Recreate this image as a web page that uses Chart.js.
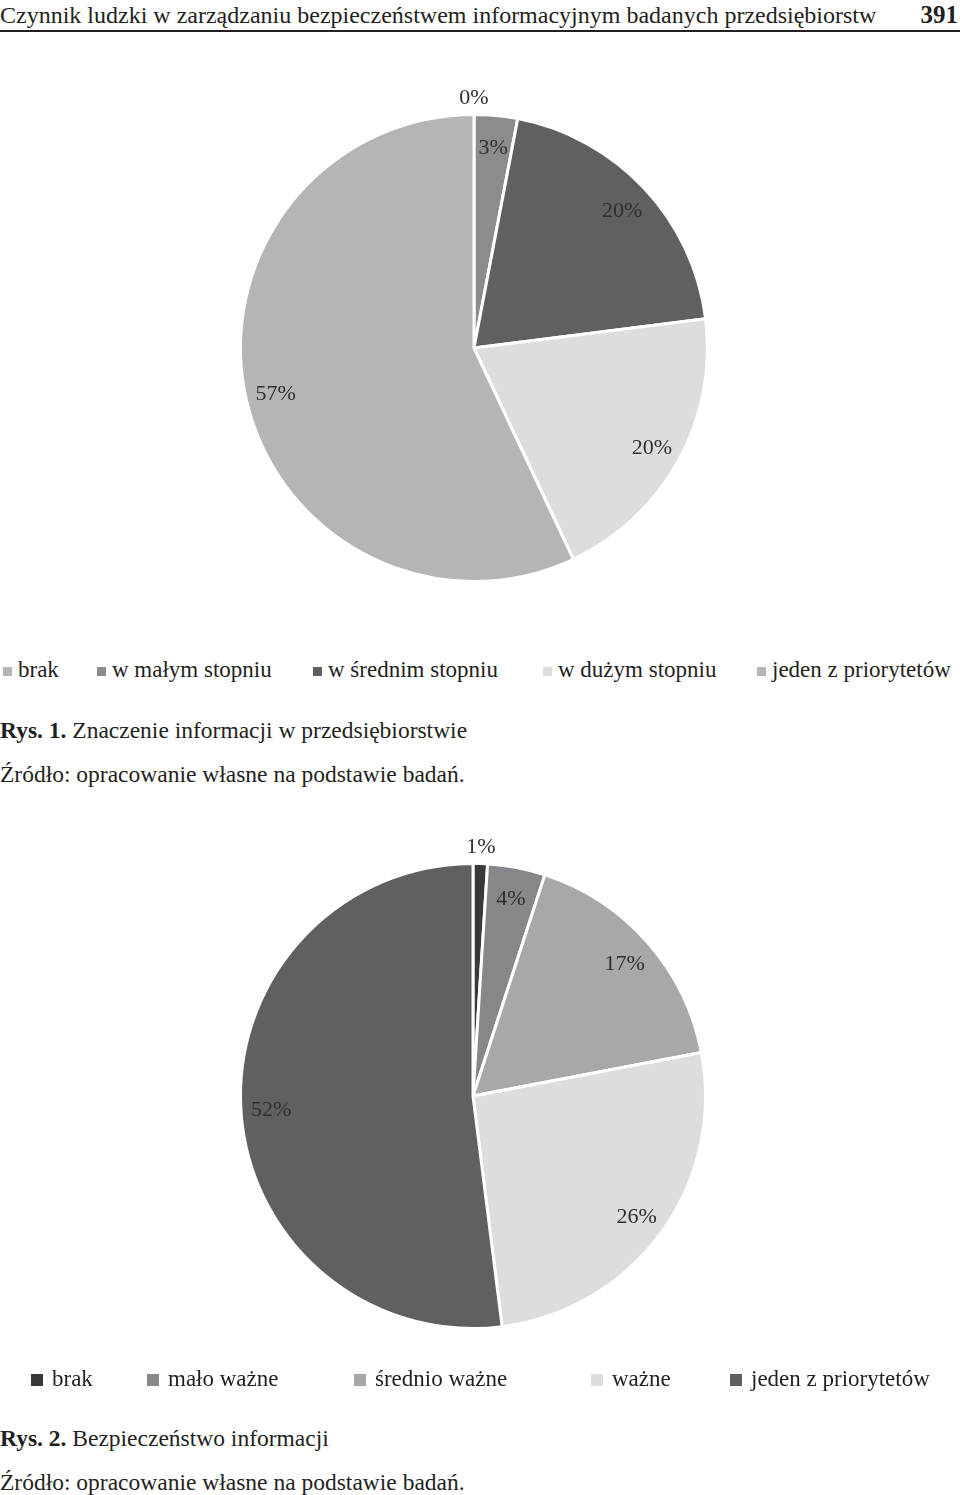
<!DOCTYPE html>
<html lang="pl">
<head>
<meta charset="utf-8">
<script src="https://cdn.jsdelivr.net/npm/chart.js@4.4.0/dist/chart.umd.min.js"></script>
<style>
  body { margin: 0; width: 960px; height: 1495px; background: #fff; position: relative; overflow: hidden;
         font-family: "Liberation Serif", "Times New Roman", serif; color: #231f20; }
  .abs { position: absolute; white-space: nowrap; }
  #header { left: 0; top: 1px; font-size: 24px; line-height: 28px; }
  #pageNo { right: 2px; top: 1px; font-size: 25px; line-height: 28px; font-weight: bold; }
  #rule { left: 0; top: 30px; width: 960px; height: 2px; background: #231f20; }
  .box { position: absolute; width: 560px; height: 560px; }
  .legend { position: absolute; left: 0; width: 960px; height: 30px; }
  .legend span { position: absolute; white-space: nowrap; }
  .legend i { position: absolute; display: block; }
  .cap { font-size: 23.5px; line-height: 26px; }
</style>
</head>
<body>
<div id="header" class="abs">Czynnik ludzki w zarządzaniu bezpieczeństwem informacyjnym badanych przedsiębiorstw</div>
<div id="pageNo" class="abs">391</div>
<div id="rule" class="abs"></div>

<div class="box" style="left:194px; top:68px;"><canvas id="chart1"></canvas></div>
<div id="legend1" class="legend" style="top:655px;"></div>
<div class="abs cap" style="left:0; top:717px;"><b>Rys. 1.</b> Znaczenie informacji w przedsiębiorstwie</div>
<div class="abs cap" style="left:0; top:761px;">Źródło: opracowanie własne na podstawie badań.</div>

<div class="box" style="left:193px; top:816px;"><canvas id="chart2"></canvas></div>
<div id="legend2" class="legend" style="top:1364px;"></div>
<div class="abs cap" style="left:0; top:1425px;"><b>Rys. 2.</b> Bezpieczeństwo informacji</div>
<div class="abs cap" style="left:0; top:1469px;">Źródło: opracowanie własne na podstawie badań.</div>

<script>
// Rys. 1 - Znaczenie informacji w przedsiębiorstwie
const labels1 = ['brak', 'w małym stopniu', 'w średnim stopniu', 'w dużym stopniu', 'jeden z priorytetów'];
const values1 = [0, 3, 20, 20, 57];
const colors1 = ['#b4b5b7', '#8b8c8e', '#5f6062', '#dcdddf', '#b4b5b7'];

// Rys. 2 - Bezpieczeństwo informacji
const labels2 = ['brak', 'mało ważne', 'średnio ważne', 'ważne', 'jeden z priorytetów'];
const values2 = [1, 4, 17, 26, 52];
const colors2 = ['#38393b', '#86878a', '#a7a8aa', '#dcdddf', '#5f6062'];

// etykiety procentowe na wycinkach (male wycinki na zewnatrz)
const percentLabels = {
  id: 'percentLabels',
  afterDatasetsDraw(chart) {
    const ctx = chart.ctx;
    const meta = chart.getDatasetMeta(0);
    const data = chart.data.datasets[0].data;
    ctx.save();
    ctx.font = '22px "Liberation Serif", serif';
    ctx.fillStyle = '#2f2f30';
    ctx.textAlign = 'center';
    ctx.textBaseline = 'middle';
    meta.data.forEach((arc, i) => {
      const p = arc.getProps(['x', 'y', 'startAngle', 'endAngle', 'outerRadius'], true);
      const mid = (p.startAngle + p.endAngle) / 2;
      const r = data[i] < 2 ? p.outerRadius + 18 : p.outerRadius * 0.87;
      ctx.fillText(data[i] + '%', p.x + Math.cos(mid) * r, p.y + Math.sin(mid) * r + 2);
    });
    ctx.restore();
  }
};

function makePie(id, labels, values, colors, pad) {
  return new Chart(document.getElementById(id), {
    type: 'pie',
    data: {
      labels: labels,
      datasets: [{
        data: values,
        backgroundColor: colors,
        borderColor: '#fff',
        borderWidth: 3,
        hoverOffset: 0
      }]
    },
    options: {
      responsive: true,
      maintainAspectRatio: false,
      animation: false,
      layout: { padding: pad },
      plugins: { legend: { display: false }, tooltip: { enabled: false } }
    },
    plugins: [percentLabels]
  });
}

makePie('chart1', labels1, values1, colors1, 45);
makePie('chart2', labels2, values2, colors2, 46);

// legendy (pozycje jak w oryginale)
function makeLegend(id, labels, colors, xs, sq, gap, fontSize) {
  const el = document.getElementById(id);
  labels.forEach((t, i) => {
    const box = document.createElement('i');
    box.style.left = xs[i] + 'px';
    box.style.top = (16 - sq / 2) + 'px';
    box.style.width = sq + 'px';
    box.style.height = sq + 'px';
    box.style.background = colors[i];
    el.appendChild(box);
    const s = document.createElement('span');
    s.textContent = t;
    s.style.left = (xs[i] + sq + gap) + 'px';
    s.style.top = '0px';
    s.style.fontSize = fontSize + 'px';
    s.style.lineHeight = '30px';
    el.appendChild(s);
  });
}
makeLegend('legend1', labels1, colors1, [3, 97, 313, 543, 757], 9, 6, 23);
makeLegend('legend2', labels2, colors2, [31, 147, 354, 591, 730], 12, 9, 23);
</script>
</body>
</html>
